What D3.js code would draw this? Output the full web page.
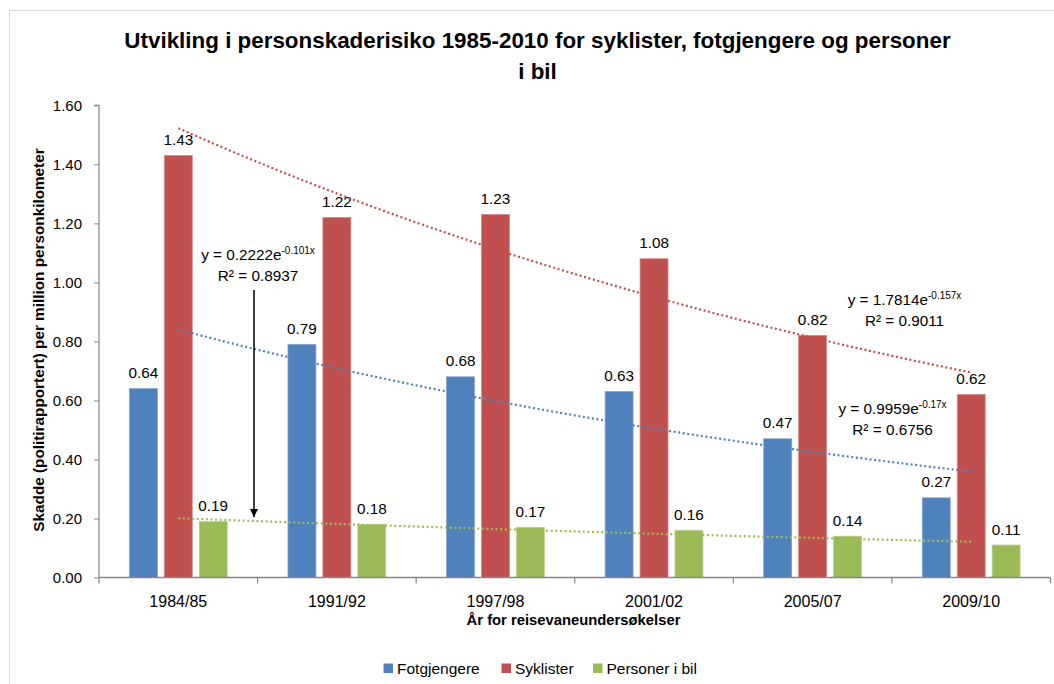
<!DOCTYPE html>
<html>
<head>
<meta charset="utf-8">
<script src="https://cdn.jsdelivr.net/npm/d3@7"></script>
<style>
  html, body { margin: 0; padding: 0; background: #fff; }
  svg { display: block; font-family: "Liberation Sans", Arial, sans-serif; }
</style>
</head>
<body>
<svg id="chart" width="1054" height="684"></svg>
<script>
// ---- data ----
const categories = ["1984/85", "1991/92", "1997/98", "2001/02", "2005/07", "2009/10"];
const seriesNames = ["Fotgjengere", "Syklister", "Personer i bil"];
const fotgjengere = [0.64, 0.79, 0.68, 0.63, 0.47, 0.27];
const syklister = [1.43, 1.22, 1.23, 1.08, 0.82, 0.62];
const personerIBil = [0.19, 0.18, 0.17, 0.16, 0.14, 0.11];
const yTicks = [0, 0.2, 0.4, 0.6, 0.8, 1.0, 1.2, 1.4, 1.6];
// exponential trendlines y = a * e^(b x), x = 1..6 (as shown in the chart)
const trendA = [0.9959, 1.7814, 0.2222];
const trendB = [-0.17, -0.157, -0.101];
const trendR2 = ["0.6756", "0.9011", "0.8937"];
const trendEqA = ["0.9959", "1.7814", "0.2222"];
const trendEqB = ["-0.17x", "-0.157x", "-0.101x"];

const colors = ["#4F81BD", "#C0504D", "#9BBB59"];
const strokeColors = ["#7FA3D1", "#D68785", "#B9D18C"];
const values = [fotgjengere, syklister, personerIBil];

const svg = d3.select("#chart");

// chart border
svg.append("rect").attr("x", 9.5).attr("y", 10.5).attr("width", 1060).attr("height", 700)
  .attr("fill", "#fff").attr("stroke", "#D9D9D9").attr("stroke-width", 1);

const pLeft = 99, pRight = 1050.5, pTop = 105.3, pBottom = 577.5;

const x0 = d3.scaleBand().domain(categories).range([pLeft, pRight]).padding(0);
const x1 = d3.scaleBand().domain(seriesNames).range([0, x0.bandwidth()])
  .paddingInner(0.2).paddingOuter(0.87);
const y = d3.scaleLinear().domain([0, 1.6]).range([pBottom, pTop]);

// title
const title = svg.append("text").attr("text-anchor", "middle")
  .attr("font-weight", "bold").attr("font-size", 22.4).attr("fill", "#000");
title.append("tspan").attr("x", 537.5).attr("y", 47.5)
  .text("Utvikling i personskaderisiko 1985-2010 for syklister, fotgjengere og personer");
title.append("tspan").attr("x", 537.5).attr("y", 78.5).text("i bil");

// bars
const groups = svg.append("g");
seriesNames.forEach((s, si) => {
  const g = groups.append("g");
  g.selectAll("rect").data(values[si]).enter().append("rect")
    .attr("x", (d, i) => x0(categories[i]) + x1(s))
    .attr("y", d => y(d))
    .attr("width", x1.bandwidth())
    .attr("height", d => pBottom - y(d))
    .attr("fill", colors[si])
    .attr("stroke", strokeColors[si])
    .attr("stroke-width", 0.8);
  g.selectAll("text").data(values[si]).enter().append("text")
    .attr("x", (d, i) => x0(categories[i]) + x1(s) + x1.bandwidth() / 2)
    .attr("y", d => y(d) - 10.5)
    .attr("text-anchor", "middle")
    .attr("font-size", 15.3).attr("fill", "#000")
    .text(d => d.toFixed(2));
});

// trendlines
const xIdx = d3.scaleLinear().domain([1, categories.length])
  .range([x0(categories[0]) + x0.bandwidth() / 2, x0(categories[categories.length - 1]) + x0.bandwidth() / 2]);
const steps = d3.range(1, 6.001, 0.1);
seriesNames.forEach((s, si) => {
  const line = d3.line().x(t => xIdx(t)).y(t => y(trendA[si] * Math.exp(trendB[si] * t)));
  svg.append("path").attr("d", line(steps)).attr("fill", "none")
    .attr("stroke", colors[si]).attr("stroke-width", 2.2)
    .attr("stroke-dasharray", "2,2.6");
});

// y axis
const yAxis = d3.axisLeft(y).tickValues(yTicks).tickSize(5).tickPadding(12)
  .tickFormat(d3.format(".2f"));
const yg = svg.append("g").attr("transform", `translate(${pLeft},0)`).call(yAxis);
yg.select(".domain").attr("stroke", "#868686").attr("stroke-width", 1.2).attr("d", `M-5,${pTop}H0V${pBottom}`);
yg.selectAll(".tick line").attr("stroke", "#868686");
yg.selectAll("text").attr("font-size", 15).attr("fill", "#000")
  .attr("font-family", "Liberation Sans, Arial, sans-serif");

// x axis
const xg = svg.append("g").attr("transform", `translate(0,${pBottom})`);
xg.append("line").attr("x1", pLeft).attr("x2", pRight).attr("y1", 0).attr("y2", 0)
  .attr("stroke", "#868686").attr("stroke-width", 1.5);
const boundaries = categories.map(c => x0(c)).concat([pRight]);
xg.selectAll("line.tk").data(boundaries).enter().append("line").attr("class", "tk")
  .attr("x1", d => d).attr("x2", d => d).attr("y1", 0).attr("y2", 6)
  .attr("stroke", "#868686").attr("stroke-width", 1.2);
xg.selectAll("text").data(categories).enter().append("text")
  .attr("x", d => x0(d) + x0.bandwidth() / 2).attr("y", 29.5)
  .attr("text-anchor", "middle").attr("font-size", 16).attr("fill", "#000").text(d => d);

// axis titles
svg.append("text").attr("x", 573.5).attr("y", 625).attr("text-anchor", "middle")
  .attr("font-weight", "bold").attr("font-size", 14.8).attr("fill", "#000")
  .text("År for reisevaneundersøkelser");
svg.append("text").attr("transform", "translate(43.5,340) rotate(-90)")
  .attr("text-anchor", "middle").attr("font-weight", "bold").attr("font-size", 15.3)
  .attr("fill", "#000").text("Skadde (politirapportert) per million personkilometer");

// trendline equations
const eqPos = [
  { cx: 892.5, y1: 414, y2: 435 },
  { cx: 904.5, y1: 305, y2: 326 },
  { cx: 258, y1: 260, y2: 280.5 }
];
seriesNames.forEach((s, si) => {
  const p = eqPos[si];
  const t1 = svg.append("text").attr("x", p.cx).attr("y", p.y1).attr("text-anchor", "middle")
    .attr("font-size", 15.3).attr("fill", "#000");
  t1.append("tspan").text("y = " + trendEqA[si] + "e");
  t1.append("tspan").attr("font-size", 10).attr("dy", -6).text(trendEqB[si]);
  svg.append("text").attr("x", p.cx).attr("y", p.y2).attr("text-anchor", "middle")
    .attr("font-size", 15.3).attr("fill", "#000").text("R² = " + trendR2[si]);
});

// arrow from green equation
const defs = svg.append("defs");
defs.append("marker").attr("id", "arr").attr("viewBox", "0 0 10 10")
  .attr("refX", 10).attr("refY", 5).attr("markerWidth", 5.5).attr("markerHeight", 6.5)
  .attr("orient", "auto").attr("markerUnits", "strokeWidth")
  .append("path").attr("d", "M0,0L10,5L0,10Z").attr("fill", "#000");
svg.append("line").attr("x1", 254).attr("x2", 254).attr("y1", 290).attr("y2", 517)
  .attr("stroke", "#000").attr("stroke-width", 1.5).attr("marker-end", "url(#arr)");

// legend
const legX = [383.5, 501.5, 593];
const lg = svg.append("g");
seriesNames.forEach((s, si) => {
  lg.append("rect").attr("x", legX[si]).attr("y", 663.5).attr("width", 9.5).attr("height", 9.5)
    .attr("fill", colors[si]);
  lg.append("text").attr("x", legX[si] + 13.5).attr("y", 673.5).attr("font-size", 15.5)
    .attr("fill", "#000").text(s);
});
</script>
</body>
</html>
